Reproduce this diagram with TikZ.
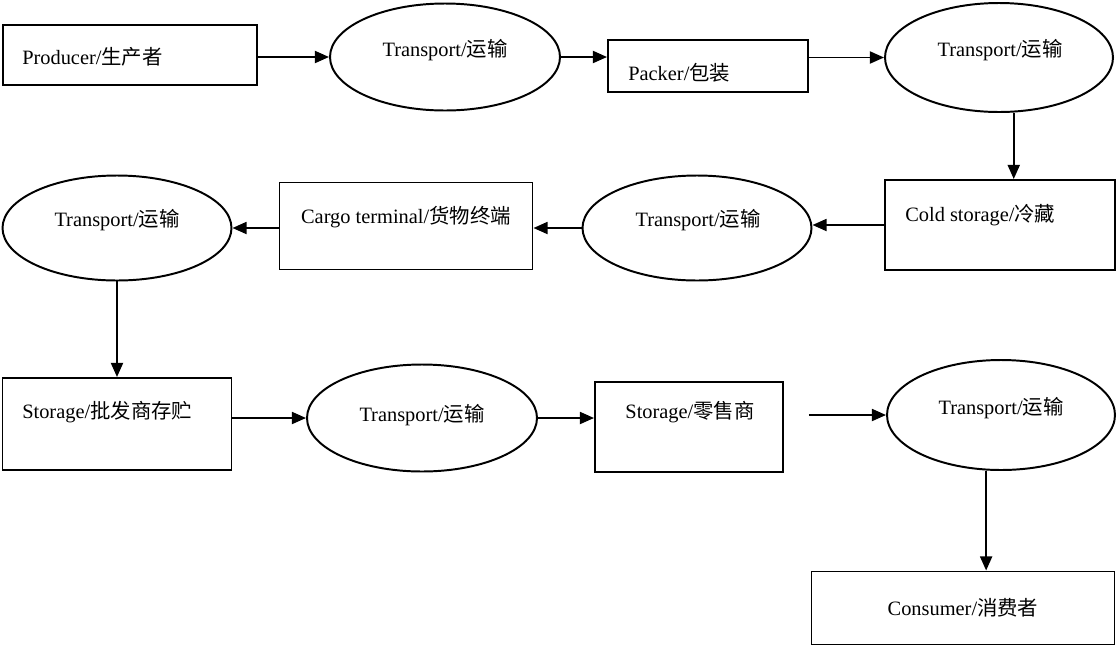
\documentclass[tikz,border=0pt]{standalone}
\usepackage{fontspec}
\setmainfont{Liberation Serif}
\newfontfamily\cjk{Noto Sans CJK SC}
\usetikzlibrary{arrows.meta,shapes.geometric}
\begin{document}
\begin{tikzpicture}[x=0.025cm,y=-0.025cm,
  every node/.style={font=\fontsize{14.5}{16}\selectfont},
  boxnode/.style={draw, line width=1.4pt, rectangle, inner sep=0pt},
  ellnode/.style={draw, line width=1.4pt, ellipse, inner sep=0pt},
  lbl/.style={inner sep=0pt},
  arr/.style={line width=1.4pt, -{Triangle[length=10pt,width=8.5pt]}}]
\useasboundingbox (0,0) rectangle (1118,646);
% row 1
\node[boxnode, minimum width=254*0.025cm, minimum height=60*0.025cm] (prod) at (130,55) {};
\node[lbl, anchor=west] (prodt) at (22,57) {Producer/{\cjk 生产者}};
\node[ellnode, minimum width=230*0.025cm, minimum height=107*0.025cm] (t1) at (445,57) {};
\node[lbl] (t1t) at (445,50) {Transport/{\cjk 运输}};
\node[boxnode, minimum width=200*0.025cm, minimum height=52*0.025cm] (pack) at (708,66) {};
\node[lbl, anchor=west] (packt) at (628,73) {Packer/{\cjk 包装}};
\node[ellnode, minimum width=228*0.025cm, minimum height=109*0.025cm] (t2) at (999,57.5) {};
\node[lbl] (t2t) at (1000,50) {Transport/{\cjk 运输}};
% row 2
\node[boxnode, minimum width=230*0.025cm, minimum height=90*0.025cm] (cold) at (1000,225) {};
\node[lbl, anchor=west] (coldt) at (905,215) {Cold storage/{\cjk 冷藏}};
\node[ellnode, minimum width=229*0.025cm, minimum height=105*0.025cm] (t3) at (697,228) {};
\node[lbl] (t3t) at (698,220) {Transport/{\cjk 运输}};
\node[boxnode, minimum width=253*0.025cm, minimum height=87*0.025cm] (cargo) at (406,226) {};
\node[lbl] (cargot) at (406,217) {Cargo terminal/{\cjk 货物终端}};
\node[ellnode, minimum width=229*0.025cm, minimum height=105*0.025cm] (t4) at (117,228) {};
\node[lbl] (t4t) at (117,220) {Transport/{\cjk 运输}};
% row 3
\node[boxnode, minimum width=229*0.025cm, minimum height=92*0.025cm] (st1) at (117,424) {};
\node[lbl, anchor=west] (st1t) at (22,412) {Storage/{\cjk 批发商存贮}};
\node[ellnode, minimum width=230*0.025cm, minimum height=107*0.025cm] (t5) at (422,418) {};
\node[lbl] (t5t) at (422,415) {Transport/{\cjk 运输}};
\node[boxnode, minimum width=188*0.025cm, minimum height=90*0.025cm] (st2) at (689,427) {};
\node[lbl] (st2t) at (690,412) {Storage/{\cjk 零售商}};
\node[ellnode, minimum width=228*0.025cm, minimum height=110*0.025cm] (t6) at (1001,415) {};
\node[lbl] (t6t) at (1001,408) {Transport/{\cjk 运输}};
\node[boxnode, minimum width=303*0.025cm, minimum height=73*0.025cm] (cons) at (963,608) {};
\node[lbl] (const) at (963,608) {Consumer/{\cjk 消费者}};
% connectors
\draw[arr] (t1.west -| prod.east) -- (t1.west);
\draw[arr] (t1.east) -- (t1.east -| pack.west);
\draw[arr] (pack.east |- t2.west) -- (t2.west);
\draw[arr] (t2.-75) -- (t2.-75 |- cold.north);
\draw[arr] (cold.west) -- (cold.west -| t3.east);
\draw[arr] (t3.west) -- (t3.west -| cargo.east);
\draw[arr] (cargo.west |- t4.east) -- (t4.east);
\draw[arr] (t4.south) -- (t4.south |- st1.north);
\draw[arr] (st1.east |- t5.west) -- (t5.west);
\draw[arr] (t5.east) -- (t5.east -| st2.west);
\draw[arr, shorten <=25*0.025cm] (st2.east |- t6.west) -- (t6.west);
\draw[arr] (t6.-105) -- (t6.-105 |- cons.north);
\end{tikzpicture}
\end{document}
